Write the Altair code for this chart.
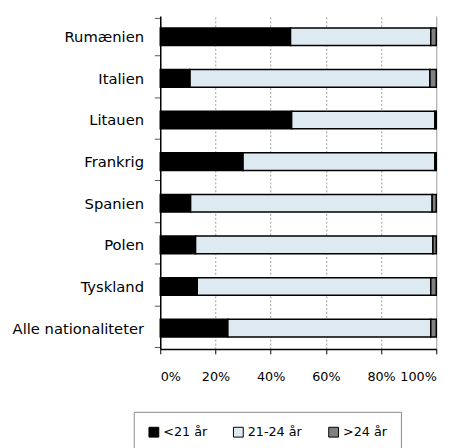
import altair as alt
import pandas as pd

countries = ["Rumænien", "Italien", "Litauen", "Frankrig", "Spanien", "Polen", "Tyskland", "Alle nationaliteter"]
groups = ["<21 år", "21-24 år", ">24 år"]
under21 = [47.2, 10.8, 47.6, 30.0, 11.0, 12.8, 13.4, 24.5]
age21_24 = [50.8, 86.9, 51.9, 69.5, 87.5, 86.0, 84.6, 73.5]
over24 = [2.0, 2.3, 0.5, 0.5, 1.5, 1.2, 2.0, 2.0]
colors = ["#000000", "#DEEAF1", "#808080"]
x_ticks = [0, 0.2, 0.4, 0.6, 0.8, 1.0]

rows = []
for i, c in enumerate(countries):
    for j, (g, vals) in enumerate(zip(groups, [under21, age21_24, over24])):
        rows.append({"land": c, "gruppe": g, "andel": vals[i], "orden": j})
df = pd.DataFrame(rows)

chart = alt.Chart(df).mark_bar(size=18, stroke="black", strokeWidth=1.5).encode(
    x=alt.X(
        "andel:Q",
        stack="normalize",
        scale=alt.Scale(domain=[0, 1], nice=False),
        axis=alt.Axis(
            values=x_ticks, format=".0%", title=None,
            grid=True,
            gridColor="#999999",
            gridDash=alt.condition("datum.value >= 1", alt.value([]), alt.value([2, 2])),
            gridWidth=1,
            domainColor="#000000", domainWidth=1.5,
            tickColor="#000000", tickSize=5,
            labelFont="DejaVu Sans", labelFontSize=13, labelColor="#000000",
            labelPadding=17,
        ),
    ),
    y=alt.Y(
        "land:N", sort=countries,
        axis=alt.Axis(
            title=None, tickBand="extent", grid=False,
            domainColor="#000000", domainWidth=1.5,
            tickColor="#555555", tickSize=6,
            labelFont="DejaVu Sans", labelFontSize=15, labelColor="#000000",
            labelPadding=11,
        ),
    ),
    color=alt.Color(
        "gruppe:N",
        scale=alt.Scale(domain=groups, range=colors),
        legend=alt.Legend(
            title=None, orient="none", direction="horizontal",
            legendX=-27, legendY=403,
            symbolType="square", symbolSize=100,
            symbolStrokeColor="black", symbolStrokeWidth=1,
            labelFont="DejaVu Sans", labelFontSize=13, labelColor="#000000",
            labelOffset=3, columnPadding=24,
            padding=14, strokeColor="#888888",
        ),
    ),
    order=alt.Order("orden:Q"),
).properties(
    width=281, height=339,
    autosize=alt.AutoSizeParams(type="none"),
    padding={"left": 155, "top": 4, "right": 16, "bottom": 110},
).configure_view(stroke=None)

chart.save("out.html", embed_options={"renderer": "svg", "actions": False})
